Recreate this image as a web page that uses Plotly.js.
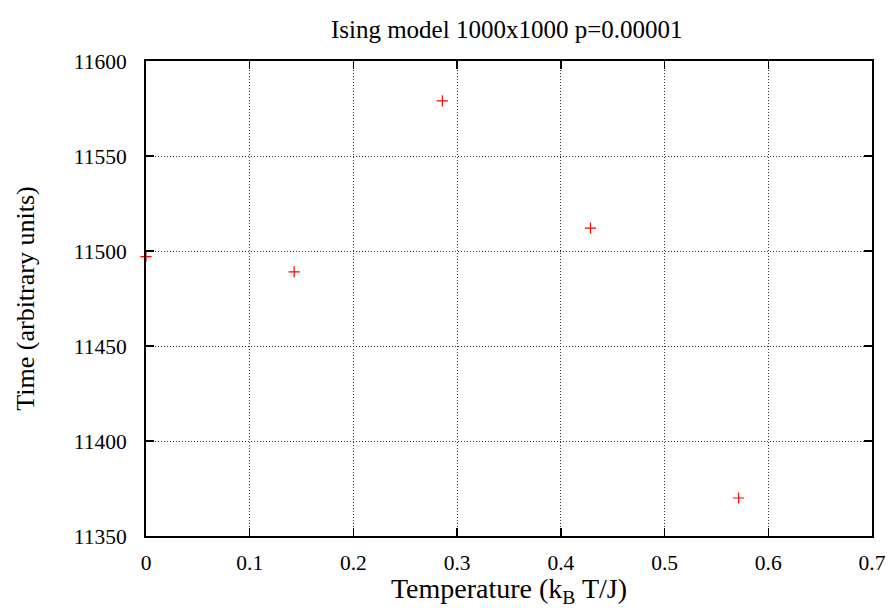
<!DOCTYPE html>
<html>
<head>
<meta charset="utf-8">
<script src="https://cdn.plot.ly/plotly-3.0.1.min.js"></script>
<style>html,body{margin:0;padding:0;background:#fff;}</style>
</head>
<body>
<div id="chart" style="width:891px;height:608px;"></div>
<script>
const temperature = [0, 1/7, 2/7, 3/7, 4/7];
const timeValues = [11497, 11489, 11579, 11512, 11370];
const xTicks = [0, 0.1, 0.2, 0.3, 0.4, 0.5, 0.6, 0.7];
const yTicks = [11350, 11400, 11450, 11500, 11550, 11600];

const font = 'Liberation Serif, Times New Roman, serif';

const trace = {
  x: temperature,
  y: timeValues,
  mode: 'markers',
  type: 'scatter',
  cliponaxis: false,
  marker: {symbol: 'cross-thin-open', size: 8, color: 'red', line: {color: 'red', width: 1.2}},
  showlegend: false
};

const axisCommon = {
  showline: true, linecolor: '#000', linewidth: 2, mirror: 'ticks',
  ticks: 'inside', ticklen: 8, tickwidth: 1.5, tickcolor: '#000',
  showgrid: true, gridcolor: '#333', griddash: '1px,2px', gridwidth: 1,
  zeroline: false,
  tickfont: {family: font, size: 21.5, color: '#000'}
};

const layout = {
  width: 891, height: 608,
  margin: {l: 146, r: 19, t: 61, b: 72},
  paper_bgcolor: '#fff', plot_bgcolor: '#fff',
  title: {text: 'Ising model 1000x1000 p=0.00001', font: {family: font, size: 25, color: '#000'},
          x: 0.5687, xanchor: 'center', y: 0.952, yanchor: 'middle'},
  xaxis: Object.assign({}, axisCommon, {
    range: [0, 0.7], tickvals: xTicks, ticktext: xTicks.map(String),
    ticklabelstandoff: 6,
    title: {text: 'Temperature (k<sub>B</sub> T/J)', font: {family: font, size: 28, color: '#000'}, standoff: 2}
  }),
  yaxis: Object.assign({}, axisCommon, {
    range: [11350, 11600], tickvals: yTicks, ticktext: yTicks.map(String),
    ticklabelstandoff: 13,
    title: {text: 'Time (arbitrary units)', font: {family: font, size: 26, color: '#000'}, standoff: 32}
  })
};

Plotly.newPlot('chart', [trace], layout, {displayModeBar: false, staticPlot: true});
</script>
</body>
</html>
